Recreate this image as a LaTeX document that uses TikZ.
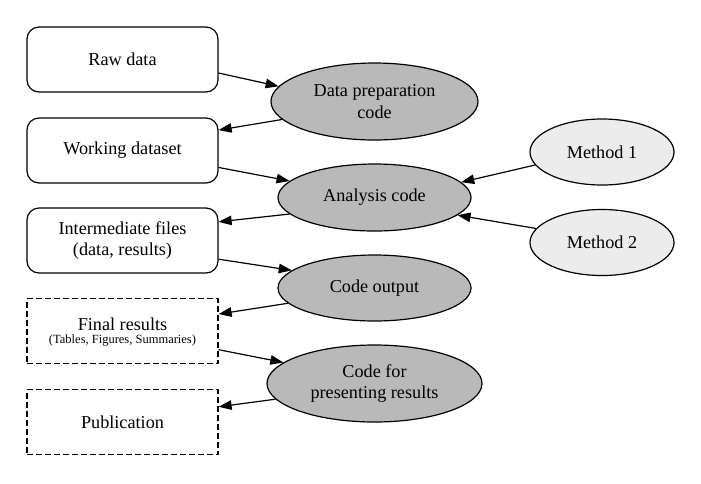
\documentclass[tikz,border=0pt]{standalone}
\usepackage{fontspec}
\setmainfont{Liberation Serif}
\newfontfamily\timesfam{Liberation Serif}
\usetikzlibrary{shapes.geometric,arrows.meta}
\begin{document}
\begin{tikzpicture}[x=1pt,y=-1pt,
  every node/.style={font=\timesfam\fontsize{18.2}{21.5}\selectfont, align=center, inner sep=0pt},
  filebox/.style={draw, line width=1.2pt, minimum width=191pt, minimum height=65pt, rounded corners=12pt},
  outbox/.style={draw, line width=1.2pt, minimum width=191pt, minimum height=65pt, dash pattern=on 6pt off 3pt},
  codeell/.style={draw, ellipse, line width=1.2pt, fill=gray!55},
  methell/.style={draw, ellipse, line width=1.2pt, fill=gray!15, minimum width=144pt, minimum height=66pt},
  flow/.style={line width=1.2pt, -{Triangle[length=13pt,width=9.5pt]}}
]
\useasboundingbox (0,0) rectangle (701,483);
\node[filebox] (raw) at (122.5,59.5) {Raw data};
\node[filebox] (work) at (122.5,150.5) {Working dataset};
\node[filebox] (inter) at (122.5,240.5) {Intermediate files\\(data, results)};
\node[outbox] (final) at (122.5,331) {};
\node[anchor=center] (finaltxt) at (122.5,332) {Final results\\[-8pt]{\timesfam\fontsize{12.5}{12.5}\selectfont (Tables, Figures, Summaries)}};
\node[outbox] (pub) at (122.5,422) {Publication};

\node[codeell, minimum width=207pt, minimum height=77pt] (prep) at (374.5,101.5) {Data preparation\\code};
\node[codeell, minimum width=193pt, minimum height=67pt] (ana) at (374.5,197.5) {Analysis code};
\node[codeell, minimum width=193pt, minimum height=66pt] (out) at (374.5,288) {Code output};
\node[codeell, minimum width=215pt, minimum height=77pt] (pres) at (374.5,383.5) {Code for\\presenting results};

\node[methell] (m1) at (602,152) {Method 1};
\node[methell] (m2) at (602,242.5) {Method 2};

\draw[flow] (raw.-8) -- (prep.171.4);
\draw[flow] (prep.-169.8) -- (work.12.1);
\draw[flow] (work.-10.4) -- (ana.169.3);
\draw[flow] (ana.-169.8) -- (inter.11);
\draw[flow] (inter.-11.5) -- (out.168.9);
\draw[flow] (out.-170.2) -- (final.10.7);
\draw[flow] (final.-11.8) -- (pres.167.2);
\draw[flow] (pres.-171.1) -- (pub.9.5);
\draw[flow] (m1.-169) -- (ana.10.5);
\draw[flow] (m2.168.6) -- (ana.-12.5);
\end{tikzpicture}
\end{document}
